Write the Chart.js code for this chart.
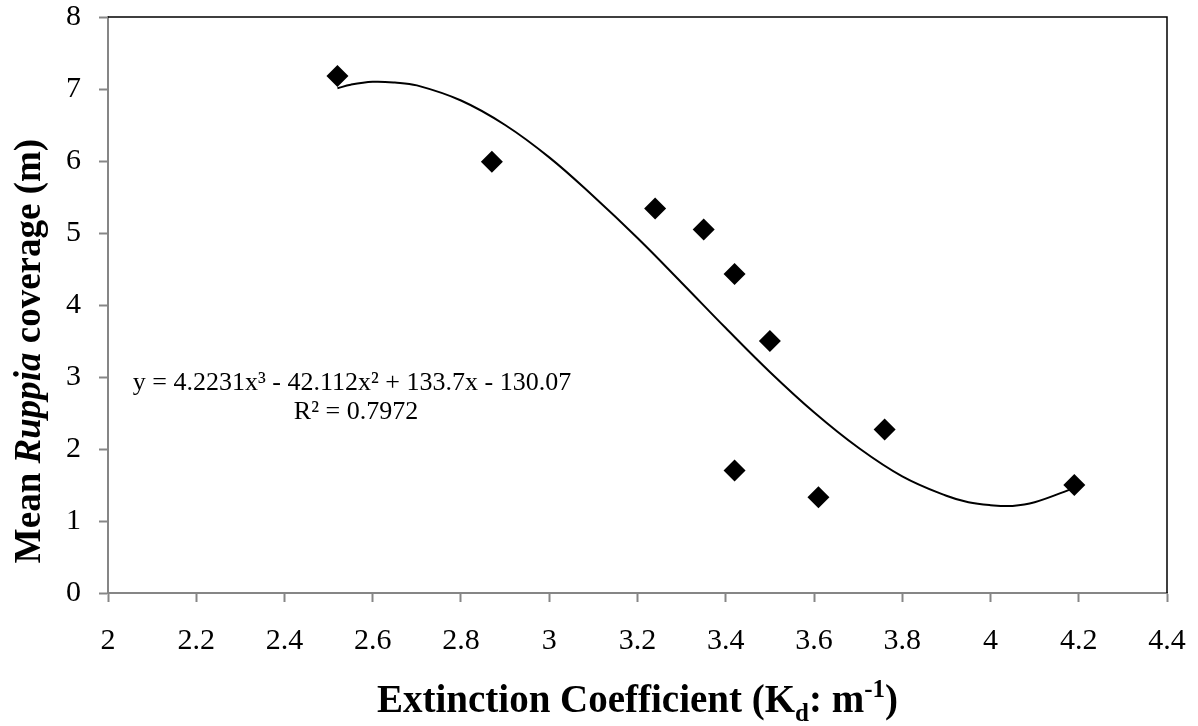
<!DOCTYPE html>
<html><head><meta charset="utf-8">
<script src="https://cdn.jsdelivr.net/npm/chart.js@4.4.1/dist/chart.umd.min.js"></script>
<style>html,body{margin:0;padding:0;background:#fff}#wrap{width:1198px;height:726px}</style>
</head><body><div id="wrap"><canvas id="c" width="1198" height="726"></canvas></div>
<script>
// Observed points
const kdValues       = [2.52, 2.87, 3.24, 3.35, 3.42, 3.50, 3.76, 3.42, 3.61, 4.19];
const coverageValues = [7.18, 5.99, 5.34, 5.05, 4.43, 3.50, 2.27, 1.70, 1.33, 1.50];
// Trendline (cubic)
const trendX = [2.52, 2.55, 2.60, 2.65, 2.70, 2.80, 2.90, 3.00, 3.10, 3.20, 3.30, 3.40, 3.50, 3.60, 3.70, 3.80, 3.90, 3.95, 4.00, 4.05, 4.10, 4.19];
const trendY = [7.01, 7.06, 7.10, 7.09, 7.05, 6.84, 6.50, 6.05, 5.51, 4.93, 4.31, 3.68, 3.07, 2.51, 2.02, 1.62, 1.35, 1.26, 1.22, 1.21, 1.26, 1.46];
const xTickValues = [2, 2.2, 2.4, 2.6, 2.8, 3, 3.2, 3.4, 3.6, 3.8, 4, 4.2, 4.4];
const yTickValues = [0, 1, 2, 3, 4, 5, 6, 7, 8];
const equationText = 'y = 4.2231x³ - 42.112x² + 133.7x - 130.07';
const r2Text = 'R² = 0.7972';

const SERIF = "'Liberation Serif', 'Times New Roman', serif";
const AXIS_GRAY = '#868686';

const overlay = {
  id: 'overlay',
  afterDraw(chart) {
    const {ctx, chartArea: a} = chart;
    ctx.save();
    // top & right frame
    ctx.strokeStyle = '#000'; ctx.lineWidth = 1.5;
    ctx.beginPath();
    ctx.moveTo(a.left, a.top); ctx.lineTo(a.right, a.top); ctx.lineTo(a.right, a.bottom);
    ctx.stroke();

    // equation
    ctx.fillStyle = '#000';
    ctx.textBaseline = 'alphabetic';
    ctx.textAlign = 'center';
    ctx.font = '26px ' + SERIF;
    ctx.fillText(equationText, 352, 390);
    ctx.fillText(r2Text, 356, 419);

    // x title with subscript / superscript
    const big = 'bold 39px ' + SERIF, small = 'bold 25px ' + SERIF;
    const parts = [
      {t: 'Extinction Coefficient (K', f: big, dy: 0},
      {t: 'd', f: small, dy: 9},
      {t: ': m', f: big, dy: 0},
      {t: '-1', f: small, dy: -15},
      {t: ')', f: big, dy: 0}
    ];
    let w = 0;
    parts.forEach(p => { ctx.font = p.f; p.w = ctx.measureText(p.t).width; w += p.w; });
    let x = (a.left + a.right) / 2 - w / 2;
    const by = 712;
    ctx.textAlign = 'left';
    parts.forEach(p => { ctx.font = p.f; ctx.fillText(p.t, x, by + p.dy); x += p.w; });

    // y title with italic Ruppia
    const ybig = 'bold 37px ' + SERIF;
    const yparts = [
      {t: 'Mean ', f: ybig},
      {t: 'Ruppia', f: 'italic ' + ybig},
      {t: ' coverage (m)', f: ybig}
    ];
    let wy = 0;
    yparts.forEach(p => { ctx.font = p.f; p.w = ctx.measureText(p.t).width; wy += p.w; });
    ctx.translate(40, 351);
    ctx.rotate(-Math.PI / 2);
    let yx = -wy / 2;
    yparts.forEach(p => { ctx.font = p.f; ctx.fillText(p.t, yx, 0); yx += p.w; });
    ctx.restore();
  }
};

new Chart(document.getElementById('c'), {
  type: 'scatter',
  data: {
    datasets: [
      {
        label: 'Trend',
        data: trendX.map((x, i) => ({x, y: trendY[i]})),
        showLine: true,
        tension: 0.4,
        borderColor: '#000',
        borderWidth: 2,
        pointRadius: 0,
        pointHoverRadius: 0,
        fill: false,
        order: 2
      },
      {
        label: 'Mean Ruppia coverage',
        data: kdValues.map((x, i) => ({x, y: coverageValues[i]})),
        pointStyle: 'rectRot',
        pointRadius: 11,
        pointHoverRadius: 11,
        backgroundColor: '#000',
        borderColor: '#000',
        borderWidth: 0,
        order: 1
      }
    ]
  },
  options: {
    responsive: false,
    animation: false,
    devicePixelRatio: 1,
    layout: {padding: {top: 17, right: 31, left: 0, bottom: 0}},
    plugins: {legend: {display: false}, tooltip: {enabled: false}},
    scales: {
      x: {
        type: 'linear', min: 2, max: 4.4,
        afterBuildTicks: s => { s.ticks = xTickValues.map(v => ({value: v})); },
        afterFit: s => { s.height = 133; s.paddingLeft = 0; s.paddingRight = 0; },
        grid: {drawOnChartArea: false, drawTicks: true, tickLength: 9, tickColor: AXIS_GRAY, tickWidth: 2},
        border: {color: AXIS_GRAY, width: 2},
        ticks: {
          color: '#000', padding: 21, maxRotation: 0, autoSkip: false,
          font: {family: SERIF, size: 30},
          callback: v => String(parseFloat(Number(v).toFixed(1)))
        }
      },
      y: {
        type: 'linear', min: 0, max: 8,
        afterBuildTicks: s => { s.ticks = yTickValues.map(v => ({value: v})); },
        afterFit: s => { s.width = 108; s.paddingTop = 0; s.paddingBottom = 0; },
        grid: {drawOnChartArea: false, drawTicks: true, tickLength: 9, tickColor: AXIS_GRAY, tickWidth: 2},
        border: {color: AXIS_GRAY, width: 2},
        ticks: {
          color: '#000', padding: 18, autoSkip: false,
          font: {family: SERIF, size: 30},
          callback: v => String(v)
        }
      }
    }
  },
  plugins: [overlay]
});
</script></body></html>
